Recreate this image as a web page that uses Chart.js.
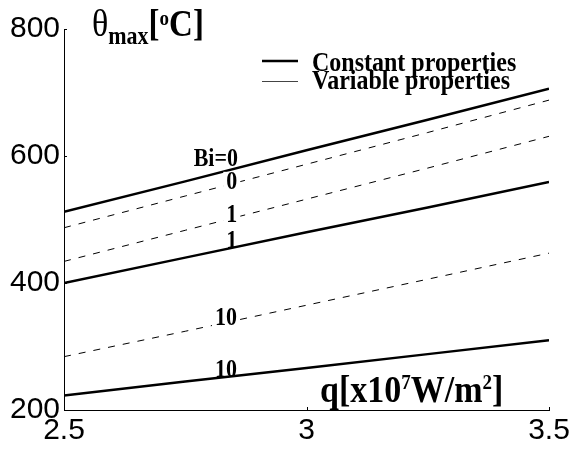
<!DOCTYPE html>
<html>
<head>
<meta charset="utf-8">
<script src="https://cdn.jsdelivr.net/npm/chart.js@4/dist/chart.umd.min.js"></script>
<style>
	html, body { margin: 0; padding: 0; background: #fff; }
	#wrap { width: 573px; height: 455px; }
</style>
</head>
<body>
<div id="wrap"><canvas id="theta-chart" width="573" height="455"></canvas></div>
<script>
// heat flux q [x10^7 W/m^2]
const flux = [2.5, 2.75, 3, 3.25, 3.5];

// theta_max [oC], constant properties (solid)
const constBi0 = [512, 560, 609, 657, 706];
const constBi1 = [400, 440, 480, 519, 559];
const constBi10 = [223, 245, 266, 288, 310];

// theta_max [oC], variable properties (dashed)
const varBi0 = [487, 537, 587, 637, 688];
const varBi1 = [434, 483, 532, 581, 631];
const varBi10 = [284, 324, 365, 406, 447];

const xTicks = [2.5, 3, 3.5];
const yTicks = [200, 400, 600, 800];

// curve labels: dataset index, q where placed, text
const curveLabels = [
	{ set: 0, q: 2.813, text: 'Bi=0' },
	{ set: 3, q: 2.846, text: '0' },
	{ set: 4, q: 2.846, text: '1' },
	{ set: 1, q: 2.846, text: '1' },
	{ set: 5, q: 2.834, text: '10' },
	{ set: 2, q: 2.834, text: '10' }
];
// baseline shift from the curve, px
const labelShift = [-8, 5, 4, 0, 2, 0];

const SERIF = '"Liberation Serif", "Times New Roman", serif';
const STRETCH = 1.12;

function solid(data) {
	return { data: data, borderColor: '#000', borderWidth: 2.5, pointRadius: 0, fill: false, tension: 0 };
}
function dashed(data) {
	return { data: data, borderColor: '#000', borderWidth: 1, borderDash: [7, 8], pointRadius: 0, fill: false, tension: 0 };
}

const toPoints = arr => arr.map((v, i) => ({ x: flux[i], y: v }));

// serif text a little taller than wide, like the printed figure
function tallText(ctx, text, x, y) {
	ctx.save();
	ctx.translate(x, y);
	ctx.scale(1, STRETCH);
	ctx.fillText(text, 0, 0);
	ctx.restore();
}

const extras = {
	id: 'extras',
	afterDatasetsDraw(chart) {
		const ctx = chart.ctx;
		const xs = chart.scales.x, ys = chart.scales.y;
		ctx.save();

		// inward tick marks
		ctx.strokeStyle = '#000';
		ctx.lineWidth = 1;
		ctx.beginPath();
		yTicks.forEach(v => {
			const py = Math.round(ys.getPixelForValue(v)) + 0.5;
			ctx.moveTo(xs.left, py);
			ctx.lineTo(xs.left + 3, py);
		});
		xTicks.forEach(v => {
			const px = Math.round(xs.getPixelForValue(v)) + 0.5;
			ctx.moveTo(px, ys.bottom);
			ctx.lineTo(px, ys.bottom - 3);
		});
		ctx.stroke();

		// curve labels
		ctx.font = 'bold 22px ' + SERIF;
		ctx.fillStyle = '#000';
		ctx.textAlign = 'center';
		ctx.textBaseline = 'alphabetic';
		curveLabels.forEach((l, i) => {
			const data = chart.data.datasets[l.set].data;
			// linear lookup on the curve
			let k = 0;
			while (k < data.length - 2 && data[k + 1].x < l.q) k++;
			const a = data[k], b = data[k + 1];
			const v = a.y + (b.y - a.y) * (l.q - a.x) / (b.x - a.x);
			const px = xs.getPixelForValue(l.q);
			const py = ys.getPixelForValue(v) + labelShift[i];
			if (chart.data.datasets[l.set].borderDash) {
				const w = ctx.measureText(l.text).width;
				ctx.fillStyle = '#fff';
				ctx.fillRect(px - w / 2 - 3, py - 17, w + 6, 19);
				ctx.fillStyle = '#000';
			}
			tallText(ctx, l.text, px, py);
		});

		// legend
		ctx.textAlign = 'left';
		ctx.strokeStyle = '#000';
		ctx.lineWidth = 2.5;
		ctx.beginPath();
		ctx.moveTo(262, 61);
		ctx.lineTo(298, 61);
		ctx.stroke();
		ctx.strokeStyle = '#444';
		ctx.lineWidth = 1;
		ctx.beginPath();
		ctx.moveTo(262, 81.5);
		ctx.lineTo(298, 81.5);
		ctx.stroke();
		ctx.font = 'bold 24px ' + SERIF;
		tallText(ctx, 'Constant properties', 312, 71);
		tallText(ctx, 'Variable properties', 312, 89);

		// axis titles
		const seq = (parts, x, y) => {
			parts.forEach(p => {
				ctx.font = p.font;
				tallText(ctx, p.t, x, y + (p.dy || 0));
				x += ctx.measureText(p.t).width;
			});
		};
		const big = 'bold 33px ' + SERIF;
		const sup = 'bold 19px ' + SERIF;
		seq([
			{ t: 'θ', font: '34px ' + SERIF },
			{ t: 'max', font: 'bold 22px ' + SERIF, dy: 8 },
			{ t: '[', font: big },
			{ t: 'o', font: sup, dy: -11 },
			{ t: 'C]', font: big }
		], 92, 36);
		seq([
			{ t: 'q[x10', font: 'bold 34px ' + SERIF },
			{ t: '7', font: sup, dy: -13 },
			{ t: 'W/m', font: 'bold 34px ' + SERIF },
			{ t: '2', font: sup, dy: -13 },
			{ t: ']', font: 'bold 34px ' + SERIF }
		], 320, 402);

		ctx.restore();
	}
};

const tickFont = { family: '"Liberation Sans", Arial, sans-serif', size: 30 };

new Chart(document.getElementById('theta-chart'), {
	type: 'line',
	data: {
		datasets: [
			solid(toPoints(constBi0)),
			solid(toPoints(constBi1)),
			solid(toPoints(constBi10)),
			dashed(toPoints(varBi0)),
			dashed(toPoints(varBi1)),
			dashed(toPoints(varBi10))
		]
	},
	options: {
		responsive: false,
		animation: false,
		layout: { padding: { top: 29, right: 24, left: 0, bottom: 0 } },
		plugins: { legend: { display: false }, tooltip: { enabled: false } },
		scales: {
			x: {
				type: 'linear',
				min: 2.5,
				max: 3.5,
				afterBuildTicks: s => { s.ticks = xTicks.map(v => ({ value: v })); },
				afterFit: s => { s.height = 45; },
				grid: { display: false, drawTicks: false },
				border: { display: true, color: '#000', width: 1 },
				ticks: { color: '#000', font: tickFont, padding: 3, maxRotation: 0, callback: v => String(v) }
			},
			y: {
				type: 'linear',
				min: 200,
				max: 800,
				afterBuildTicks: s => { s.ticks = yTicks.map(v => ({ value: v })); },
				afterFit: s => { s.width = 64; },
				grid: { display: false, drawTicks: false },
				border: { display: true, color: '#000', width: 1 },
				ticks: { color: '#000', font: tickFont, padding: 4, callback: v => String(v) }
			}
		}
	},
	plugins: [extras]
});
</script>
</body>
</html>
